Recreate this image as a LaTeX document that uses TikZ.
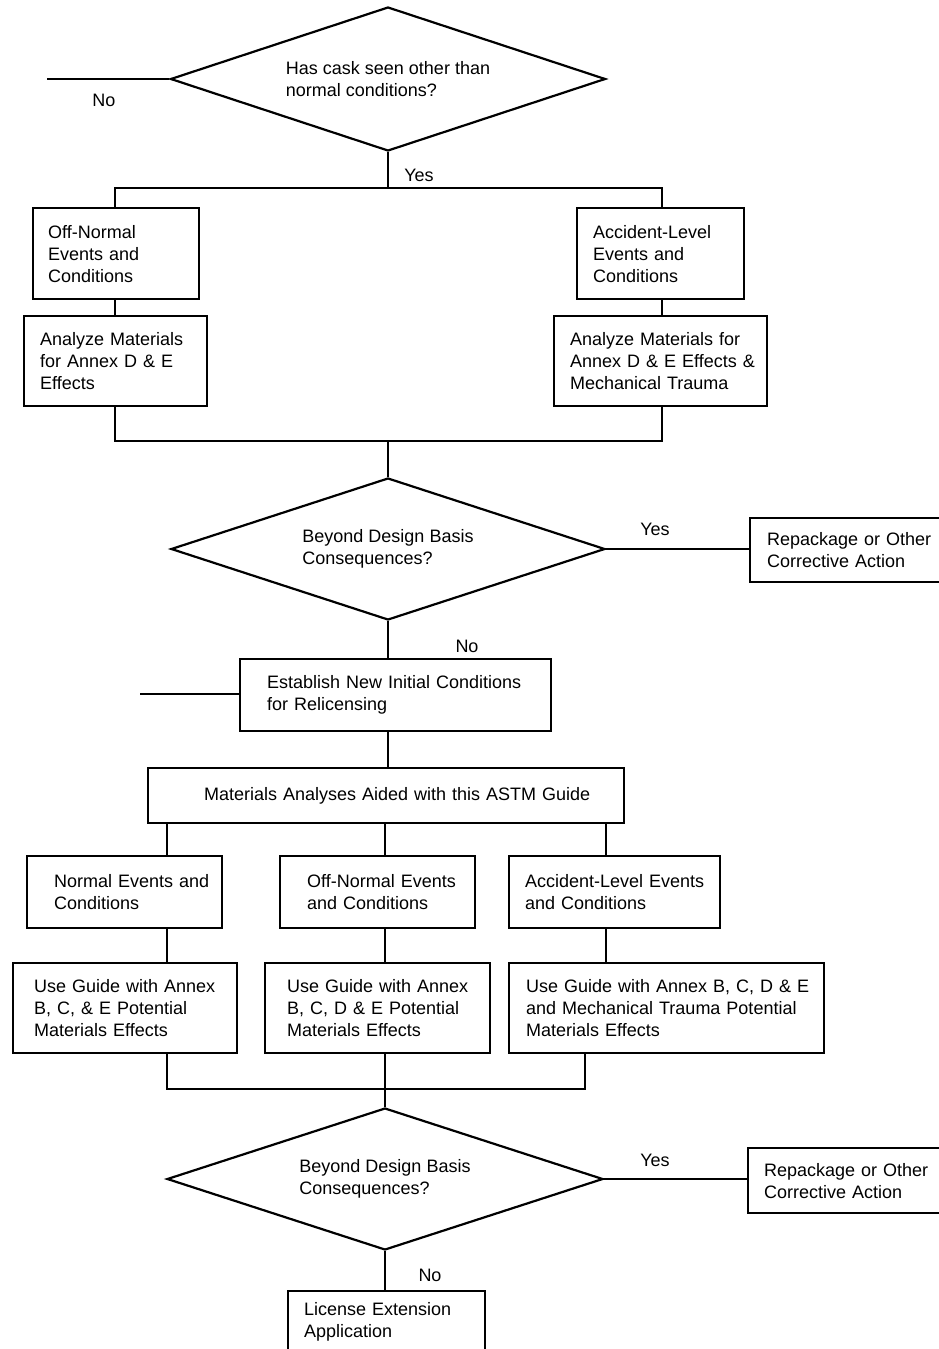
\documentclass[tikz,border=0pt]{standalone}
\usepackage{fontspec}
\setmainfont{Liberation Sans}
\usetikzlibrary{shapes.geometric,calc}
\newcommand\flowfont{\fontsize{18}{22}\selectfont}
\tikzset{
  stepbox/.style n args={3}{
    rectangle,
    draw=black, line width=2.2pt,
    anchor=north west,
    minimum width=#1,
    minimum height=#2,
    text width=#1,
    inner xsep=0pt,
    align=left,
    execute at begin node={\leftskip=#3pt},
    font=\flowfont},
  decision/.style={
    diamond, aspect=3,
    draw=black, line width=2.2pt,
    inner sep=0pt,
    align=left,
    font=\flowfont},
  answer/.style={font=\flowfont},
  line/.style={draw, line width=2.2pt},
}

\begin{document}
\begin{tikzpicture}[x=1pt,y=-1pt]
	\clip (0,0) rectangle (939,1349);
	\fill[white] (0,0) rectangle (939,1349);

	% first question
	\node[decision, minimum width=435, minimum height=144] (q1) at (388,79)
		{Has cask seen other than\\normal conditions?};
	\node[stepbox={166}{91}{15}] (offA) at (32,207) {Off-Normal\\Events and\\Conditions};
	\node[stepbox={167}{91}{16}] (accA) at (576,207) {Accident-Level\\Events and\\Conditions};
	\node[stepbox={183}{90}{16}] (anaA) at (23,315) {Analyze Materials\\for Annex D \& E\\Effects};
	\node[stepbox={213}{90}{16}] (anaB) at (553,315) {Analyze Materials for\\Annex D \& E Effects \&\\Mechanical Trauma};

	% second question
	\node[decision, minimum width=434, minimum height=142] (q2) at (388,549)
		{Beyond Design Basis\\Consequences?};
	\node[stepbox={230}{64}{17}] (repA) at (749,517) {Repackage or Other\\Corrective Action};
	\node[stepbox={311}{72}{27}] (est) at (239,658) {Establish New Initial Conditions\\for Relicensing};
	\node[stepbox={476}{55}{56}] (mat) at (147,767) {Materials Analyses Aided with this ASTM Guide};

	\node[stepbox={195}{72}{27}] (norm) at (26,855) {Normal Events and\\Conditions};
	\node[stepbox={195}{72}{27}] (offB) at (279,855) {Off-Normal Events\\and Conditions};
	\node[stepbox={211}{72}{16}] (accB) at (508,855) {Accident-Level Events\\and Conditions};
	\node[stepbox={224}{90}{21}] (useA) at (12,962) {Use Guide with Annex\\B, C, \& E Potential\\Materials Effects};
	\node[stepbox={225}{90}{22}] (useB) at (264,962) {Use Guide with Annex\\B, C, D \& E Potential\\Materials Effects};
	\node[stepbox={315}{90}{17}] (useC) at (508,962) {Use Guide with Annex B, C, D \& E\\and Mechanical Trauma Potential\\Materials Effects};

	% third question
	\node[decision, minimum width=436, minimum height=142] (q3) at (385,1179)
		{Beyond Design Basis\\Consequences?};
	\node[stepbox={230}{65}{16}] (repB) at (747,1147) {Repackage or Other\\Corrective Action};
	\node[stepbox={197}{62}{16}] (lic) at (287,1290) {License Extension\\Application};

	% answers
	\node[answer] (noA) at (104,100) {No};
	\node[answer] (yesA) at (419,175) {Yes};
	\node[answer] (yesB) at (655,529) {Yes};
	\node[answer] (noB) at (467,646) {No};
	\node[answer] (yesC) at (655,1160) {Yes};
	\node[answer] (noC) at (430,1275) {No};

	\coordinate (noEnd) at (47,79);
	\coordinate (feedIn) at (140,694);
	\coordinate (j1) at (388,188);
	\coordinate (j2) at (388,441);
	\coordinate (j4) at (385,1089);
	\coordinate (colL) at (115,0);
	\coordinate (colR) at (662,0);
	\coordinate (colA) at (167,0);
	\coordinate (colB) at (385,0);
	\coordinate (colC) at (606,0);
	\coordinate (colD) at (585,0);

	\draw[line] (noEnd) -- (q1.west);
	\draw[line] (q1.south) -- (j1);
	\draw[line] (colL |- offA.north) |- (j1) -| (colR |- accA.north);
	\draw[line] (colL |- offA.south) -- (colL |- anaA.north);
	\draw[line] (colR |- accA.south) -- (colR |- anaB.north);
	\draw[line] (colL |- anaA.south) |- (j2) -| (colR |- anaB.south);
	\draw[line] (j2) -- (q2.north);

	\draw[line] (q2.east) -- (q2.east -| repA.west);
	\draw[line] (q2.south) -- (q2.south |- est.north);
	\draw[line] (feedIn) -- (feedIn -| est.west);
	\draw[line] (q2.south |- est.south) -- (q2.south |- mat.north);

	\draw[line] (colA |- mat.south) -- (colA |- norm.north);
	\draw[line] (colB |- mat.south) -- (colB |- offB.north);
	\draw[line] (colC |- mat.south) -- (colC |- accB.north);
	\draw[line] (colA |- norm.south) -- (colA |- useA.north);
	\draw[line] (colB |- offB.south) -- (colB |- useB.north);
	\draw[line] (colC |- accB.south) -- (colC |- useC.north);
	\draw[line] (colA |- useA.south) -- (colA |- j4) -- (colD |- j4) -- (colD |- useC.south);
	\draw[line] (colB |- useB.south) -- (j4) -- (q3.north);

	\draw[line] (q3.east) -- (q3.east -| repB.west);
	\draw[line] (q3.south) -- (q3.south |- lic.north);
\end{tikzpicture}
\end{document}
